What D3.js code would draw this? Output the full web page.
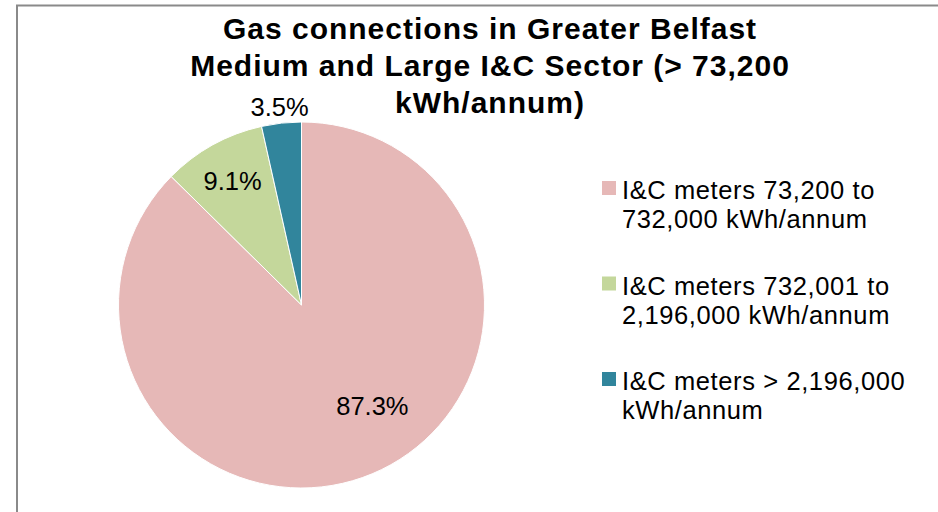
<!DOCTYPE html>
<html>
<head>
<meta charset="utf-8">
<script src="https://cdn.jsdelivr.net/npm/d3@7"></script>
<style>
  html, body { margin: 0; padding: 0; background: #fff; }
  svg text { font-family: "Liberation Sans", Arial, sans-serif; fill: #000; }
</style>
</head>
<body>
<div id="chart"></div>
<script>
// chart data
const categories = [
  "I&C meters 73,200 to 732,000 kWh/annum",
  "I&C meters 732,001 to 2,196,000 kWh/annum",
  "I&C meters > 2,196,000 kWh/annum"
];
const shares = [87.3, 9.1, 3.5];
const legendLines = [
  ["I&C meters 73,200 to", "732,000 kWh/annum"],
  ["I&C meters 732,001 to", "2,196,000 kWh/annum"],
  ["I&C meters > 2,196,000", "kWh/annum"]
];
const titleLines = [
  "Gas connections in Greater Belfast",
  "Medium and Large I&C Sector (> 73,200",
  "kWh/annum)"
];

const colors = ["#e6b8b7", "#c4d79b", "#31859c"];

const width = 938, height = 512;
const cx = 301.5, cy = 305, radius = 183;

const svg = d3.select("#chart")
  .append("svg")
    .attr("width", width)
    .attr("height", height);

// chart area border (runs off the right and bottom)
svg.append("rect")
  .attr("x", 17)
  .attr("y", 5.5)
  .attr("width", 1000)
  .attr("height", 600)
  .attr("fill", "none")
  .attr("stroke", "#8a8a8a")
  .attr("stroke-width", 2);

// title
svg.append("text")
  .attr("text-anchor", "middle")
  .style("font-size", "30px")
  .style("font-weight", "bold")
  .style("letter-spacing", "1px")
  .selectAll("tspan")
  .data(titleLines)
  .join("tspan")
    .attr("x", 490)
    .attr("y", (d, i) => 39 + i * 37)
    .text(d => d);

const pie = d3.pie().sort(null).value(d => d);
const arcs = pie(shares);

const arc = d3.arc().innerRadius(0).outerRadius(radius);

const g = svg.append("g")
  .attr("transform", `translate(${cx},${cy})`);

g.selectAll("path")
  .data(arcs)
  .join("path")
    .attr("d", arc)
    .attr("fill", (d, i) => colors[i])
    .attr("stroke", "#fff")
    .attr("stroke-width", 1);

// data labels: radius where each label sits, plus small best-fit nudges
const labelRadius = [124, 142, 199];
const labelNudge = [[23, -13], [0, 0], [0, 0]];

g.selectAll("text.pct")
  .data(arcs)
  .join("text")
    .attr("class", "pct")
    .attr("text-anchor", "middle")
    .attr("dy", "0.35em")
    .style("font-size", "25.5px")
    .attr("transform", (d, i) => {
      const c = d3.arc().innerRadius(labelRadius[i]).outerRadius(labelRadius[i]).centroid(d);
      return `translate(${c[0] + labelNudge[i][0]},${c[1] + labelNudge[i][1]})`;
    })
    .text(d => d.data.toFixed(1) + "%");

// legend
const legend = svg.append("g")
  .attr("transform", "translate(602,181)");

const item = legend.selectAll("g")
  .data(categories)
  .join("g")
    .attr("transform", (d, i) => `translate(0,${i * 95.5})`);

item.append("rect")
  .attr("width", 14)
  .attr("height", 14)
  .attr("fill", (d, i) => colors[i]);

item.append("text")
  .style("font-size", "25.5px")
  .style("letter-spacing", "0.6px")
  .selectAll("tspan")
  .data((d, i) => legendLines[i])
  .join("tspan")
    .attr("x", 20)
    .attr("y", (d, j) => 18 + j * 29)
    .text(d => d);
</script>
</body>
</html>
